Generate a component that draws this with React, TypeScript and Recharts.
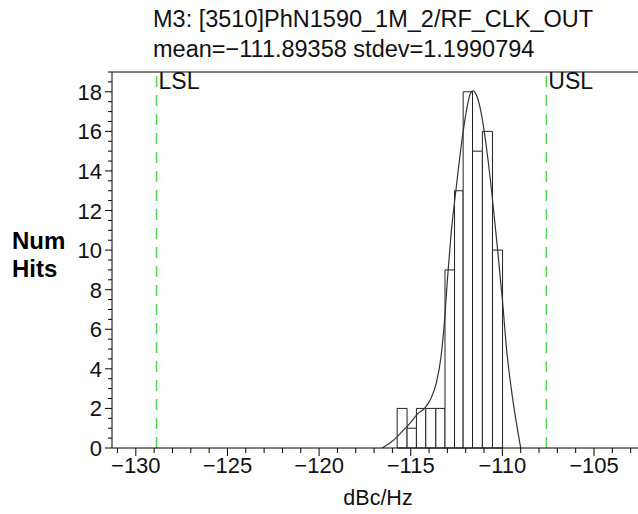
import { ComposedChart, Line, XAxis, YAxis, ReferenceArea, ReferenceLine } from "recharts";

// histogram bins (dBc/Hz)
const binStart = [-115.74, -115.2, -114.69, -114.18, -113.63, -113.13, -112.61, -112.14, -111.63, -111.09, -110.54];
const binEnd = [-115.2, -114.69, -114.18, -113.63, -113.13, -112.61, -112.14, -111.63, -111.09, -110.54, -109.99];
const binCounts = [2, 1, 2, 2, 2, 9, 13, 18, 15, 16, 10];

// fitted curve
const curveX = [-116.56, -116.0, -115.5, -115.0, -114.6, -114.25, -113.9, -113.6, -113.35, -113.15, -113.0, -112.8, -112.5, -112.2, -111.95, -111.75, -111.6, -111.4, -111.15, -110.9, -110.6, -110.3, -110.0, -109.75, -109.5, -109.0];
const curveY = [0, 0.35, 0.8, 1.3, 1.75, 2.0, 2.5, 3.3, 4.6, 6.5, 8.5, 10.8, 13.3, 15.6, 17.1, 17.9, 18.05, 17.8, 16.9, 15.4, 13.1, 10.4, 7.5, 4.8, 2.9, 0];

const xLabels = [-130, -125, -120, -115, -110, -105];
const yLabels = [0, 2, 4, 6, 8, 10, 12, 14, 16, 18];
const LSL = -128.87;
const USL = -107.6;

const titleLine1 = "M3: [3510]PhN1590_1M_2/RF_CLK_OUT";
const titleLine2 = "mean=\u2212111.89358 stdev=1.1990794";

const curve = curveX.map((x, i) => ({ x, y: curveY[i] }));
const xTicks: number[] = [];
for (let v = -131; v <= -103; v++) xTicks.push(v);
const yTicks: number[] = [];
for (let v = 0; v <= 19; v += 0.5) yTicks.push(v);

const FONT = "'Liberation Sans', Arial, sans-serif";
const GREEN = "#52d652";

const fmt = (v: number) => String(v).replace("-", "\u2212");

function XTick({ x, y, payload }: any) {
  const major = xLabels.includes(payload.value);
  return (
    <g>
      <line x1={x} x2={x} y1={y} y2={y + (major ? 8 : 5)} stroke="#000" />
      {major && (
        <text x={x} y={y + 25} textAnchor="middle" fontSize={22} fontFamily={FONT} fill="#111">
          {fmt(payload.value)}
        </text>
      )}
    </g>
  );
}

function YTick({ x, y, payload }: any) {
  const major = yLabels.includes(payload.value);
  return (
    <g>
      <line x1={x - (major ? 7 : 4)} x2={x} y1={y} y2={y} stroke="#000" />
      {major && (
        <text x={x - 10} y={y + 8} textAnchor="end" fontSize={22} fontFamily={FONT} fill="#111">
          {payload.value}
        </text>
      )}
    </g>
  );
}

const specLabel = (text: string) => (props: any) => {
  const { viewBox } = props;
  return (
    <text x={viewBox.x + 2} y={viewBox.y + 17} fontSize={23} fontFamily={FONT} fill="#111">
      {text}
    </text>
  );
};

export default function App() {
  return (
    <div style={{ position: "relative", width: 638, height: 514, background: "#fff" }}>
      <style>{`body{margin:0}`}</style>
      <ComposedChart
        width={638}
        height={514}
        data={curve}
        margin={{ top: 72, right: 0, bottom: 0, left: 0 }}
      >
        <XAxis
          dataKey="x"
          type="number"
          domain={[-131.3, -102.6]}
          allowDataOverflow
          ticks={xTicks}
          interval={0}
          height={66}
          tickSize={0}
          tickMargin={0}
          tickLine={false}
          tick={<XTick />}
          axisLine={{ stroke: "#000" }}
        />
        <YAxis
          type="number"
          domain={[0, 19]}
          allowDataOverflow
          ticks={yTicks}
          interval={0}
          width={112}
          tickSize={0}
          tickMargin={0}
          tickLine={false}
          tick={<YTick />}
          axisLine={{ stroke: "#000" }}
        />
        <ReferenceLine y={19} stroke="#000" ifOverflow="visible" />
        {binCounts.map((c, i) => (
          <ReferenceArea
            key={i}
            x1={binStart[i]}
            x2={binEnd[i]}
            y1={0}
            y2={c}
            fill="#fff"
            fillOpacity={1}
            stroke="#222"
            strokeWidth={1}
          />
        ))}
        <ReferenceLine x={LSL} stroke={GREEN} strokeWidth={1.5} strokeDasharray="11 8" label={specLabel("LSL")} />
        <ReferenceLine x={USL} stroke={GREEN} strokeWidth={1.5} strokeDasharray="11 8" label={specLabel("USL")} />
        <Line
          dataKey="y"
          type="monotone"
          stroke="#333"
          strokeWidth={1.2}
          dot={false}
          activeDot={false}
          isAnimationActive={false}
        />
      </ComposedChart>
      <svg width={638} height={514} style={{ position: "absolute", left: 0, top: 0, pointerEvents: "none" }}>
        <text x={153} y={27} fontSize={23.5} fontFamily={FONT} fill="#111">{titleLine1}</text>
        <text x={153} y={57} fontSize={23.5} fontFamily={FONT} fill="#111">{titleLine2}</text>
        <text x={12} y={249} fontSize={24} fontWeight="bold" fontFamily={FONT} fill="#000">Num</text>
        <text x={12} y={277} fontSize={24} fontWeight="bold" fontFamily={FONT} fill="#000">Hits</text>
        <text x={378} y={505} textAnchor="middle" fontSize={21.5} fontFamily={FONT} fill="#111">dBc/Hz</text>
      </svg>
    </div>
  );
}
